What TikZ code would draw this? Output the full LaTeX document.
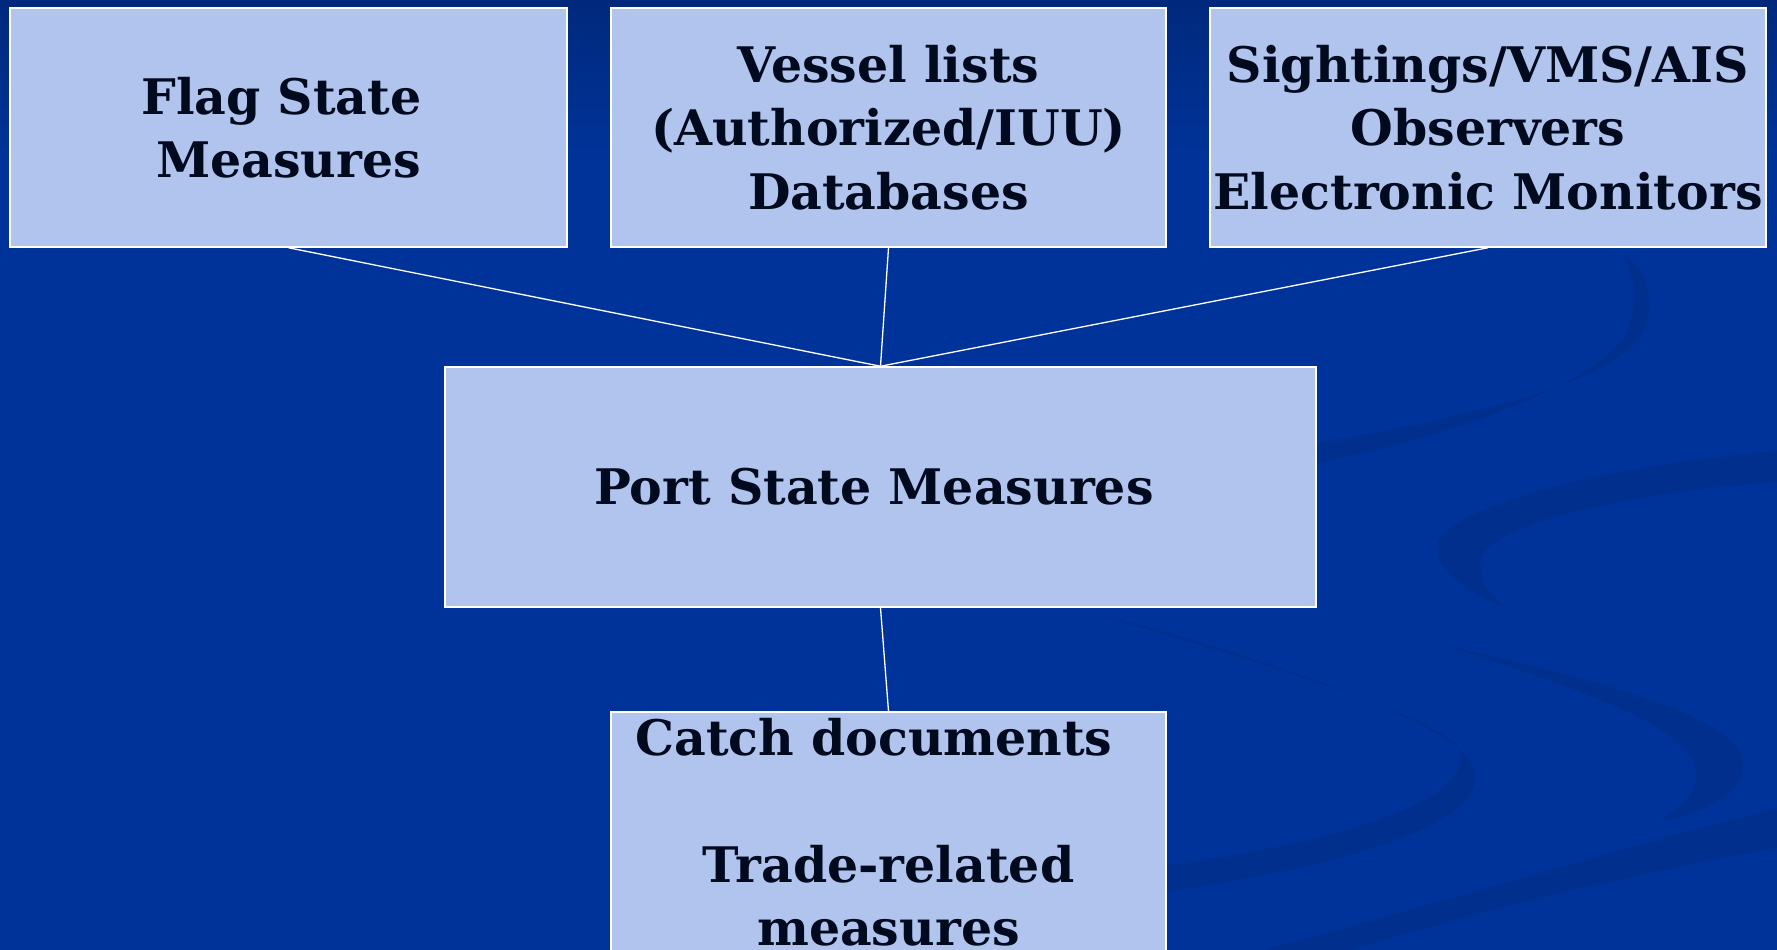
\documentclass[tikz,border=0pt]{standalone}
\usepackage{fontspec}
\newfontfamily\boxfont{DejaVu Serif}
\definecolor{bgblue}{HTML}{003399}
\definecolor{topblue}{HTML}{00297C}
\definecolor{swblue}{HTML}{002F8E}
\definecolor{boxfill}{HTML}{B0C4EE}
\definecolor{boxtext}{HTML}{000A1E}
\tikzset{
  box/.style={draw=white, line width=1.5pt, fill=boxfill, inner sep=0pt,
    align=center, text=boxtext,
    font=\boxfont\bfseries\fontsize{49}{63.5}\selectfont},
  conn/.style={draw=white, line width=1.3pt},
  sw/.style={fill=swblue}
}
\begin{document}
\begin{tikzpicture}[x=1pt,y=-1pt]
\useasboundingbox (0,0) rectangle (1777,950);
% background
\fill[bgblue] (0,0) rectangle (1777,950);
\shade[top color=topblue, bottom color=bgblue] (0,0) rectangle (1777,160);
% decorative swooshes
\fill[sw] (1300,446) .. controls (1450,420) and (1635,385) .. (1648,318)
  .. controls (1654,285) and (1640,265) .. (1622,254)
  .. controls (1634,272) and (1638,300) .. (1628,330)
  .. controls (1605,380) and (1450,440) .. (1300,466) -- cycle;
\fill[sw] (1777,451) .. controls (1600,465) and (1440,510) .. (1437,545)
  .. controls (1436,575) and (1480,600) .. (1506,607)
  .. controls (1482,590) and (1476,570) .. (1483,555)
  .. controls (1500,520) and (1650,490) .. (1777,482) -- cycle;
\fill[sw] (1088,612) .. controls (1250,660) and (1440,715) .. (1458,748)
  .. controls (1478,790) and (1380,840) .. (1130,870) -- (1130,897)
  .. controls (1390,862) and (1500,812) .. (1471,762)
  .. controls (1450,722) and (1250,650) .. (1088,612) -- cycle;
\fill[sw] (1437,643) .. controls (1550,670) and (1740,710) .. (1743,763)
  .. controls (1745,795) and (1700,815) .. (1657,821)
  .. controls (1690,805) and (1700,785) .. (1695,765)
  .. controls (1680,720) and (1550,680) .. (1437,643) -- cycle;
\fill[sw] (1264,950) .. controls (1450,900) and (1650,840) .. (1777,808)
  -- (1777,848) .. controls (1650,870) and (1480,910) .. (1350,950) -- cycle;
% boxes
\node[box, minimum width=557pt, minimum height=239pt] (flag) at (288.5,127.5)
  {Flag State\hspace*{14pt}\\Measures};
\node[box, minimum width=555pt, minimum height=239pt] (vessel) at (888.5,127.5)
  {Vessel lists\\(Authorized/IUU)\\Databases};
\node[box, minimum width=556pt, minimum height=239pt] (sight) at (1488,127.5)
  {Sightings/VMS/AIS\\Observers\\Electronic Monitors};
\node[box, minimum width=871pt, minimum height=240pt] (port) at (880.5,487)
  {Port State Measures\hspace*{13pt}};
\node[box, minimum width=555pt, minimum height=240pt] (catch) at (888.5,832)
  {Catch documents\hspace*{29pt}\\\mbox{}\\Trade-related\hspace*{15pt}\\measures};
% connectors
\draw[conn] (flag.south) -- (port.north);
\draw[conn] (vessel.south) -- (port.north);
\draw[conn] (sight.south) -- (port.north);
\draw[conn] (port.south) -- (catch.north);
\end{tikzpicture}
\end{document}
